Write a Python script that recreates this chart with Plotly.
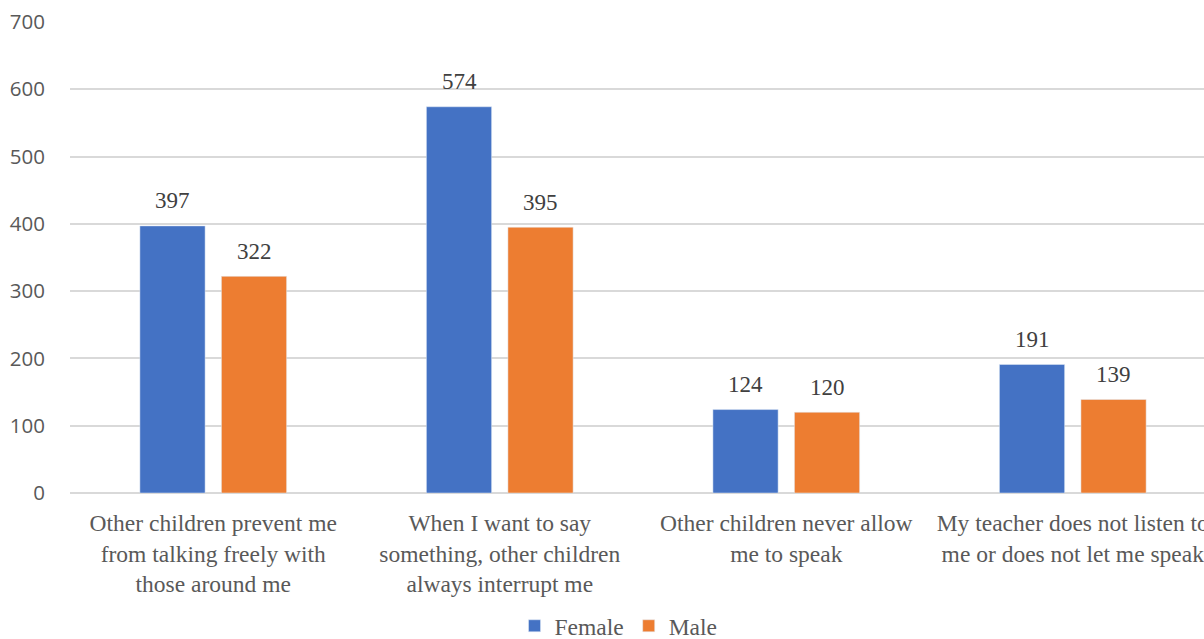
import plotly.graph_objects as go

categories = [
    "Other children prevent me<br>from talking freely with<br>those around me",
    "When I want to say<br>something, other children<br>always interrupt me",
    "Other children never allow<br>me to speak",
    "My teacher does not listen to<br>me or does not let me speak",
]
female = [397, 574, 124, 191]
male = [322, 395, 120, 139]
y_ticks = [0, 100, 200, 300, 400, 500, 600, 700]

BLUE = "#4472C4"
ORANGE = "#ED7D31"
SERIF = "Liberation Serif"
SANS = "Open Sans"

xs = list(range(len(categories)))
bargap = 0.431
offset = (1 - bargap) / 4  # centre of each bar slot within a group

fig = go.Figure()
fig.add_bar(x=xs, y=female, name="Female", marker_color=BLUE)
fig.add_bar(x=xs, y=male, name="Male", marker_color=ORANGE)

annotations = []
for i in xs:
    for val, dx in ((female[i], -offset), (male[i], offset)):
        annotations.append(dict(
            x=i + dx, y=val, xref="x", yref="y", text=str(val),
            showarrow=False, yshift=25, yanchor="middle",
            font=dict(family=SERIF, size=23, color="#404040"),
        ))

fig.update_layout(
    width=1204, height=639,
    margin=dict(l=70, r=0, t=22, b=146, autoexpand=False),
    paper_bgcolor="white", plot_bgcolor="white",
    barmode="group", bargap=bargap, bargroupgap=0.2,
    annotations=annotations,
    showlegend=True,
    legend=dict(
        orientation="h", x=0.392, xanchor="left",
        yref="container", y=13 / 639, yanchor="middle",
        font=dict(family=SERIF, size=23.5, color="#595959"),
        itemwidth=30, tracegroupgap=0,
    ),
    xaxis=dict(
        range=[-0.5, 3.458], tickmode="array", tickvals=xs, ticktext=categories,
        showgrid=False, zeroline=False, showline=False, automargin=False,
        ticks="outside", ticklen=9, tickcolor="rgba(0,0,0,0)",
        ticklabeloverflow="allow",
        tickfont=dict(family=SERIF, size=23.5, color="#595959"),
    ),
    yaxis=dict(
        range=[0, 700], tickmode="array", tickvals=y_ticks, automargin=False,
        showgrid=True, gridcolor="#D9D9D9", gridwidth=2,
        zeroline=True, zerolinecolor="#D9D9D9", zerolinewidth=2,
        showline=False, ticks="outside", ticklen=20, tickcolor="rgba(0,0,0,0)",
        tickfont=dict(family=SANS, size=20.5, color="#595959"),
    ),
)

fig.write_html("out.html")
